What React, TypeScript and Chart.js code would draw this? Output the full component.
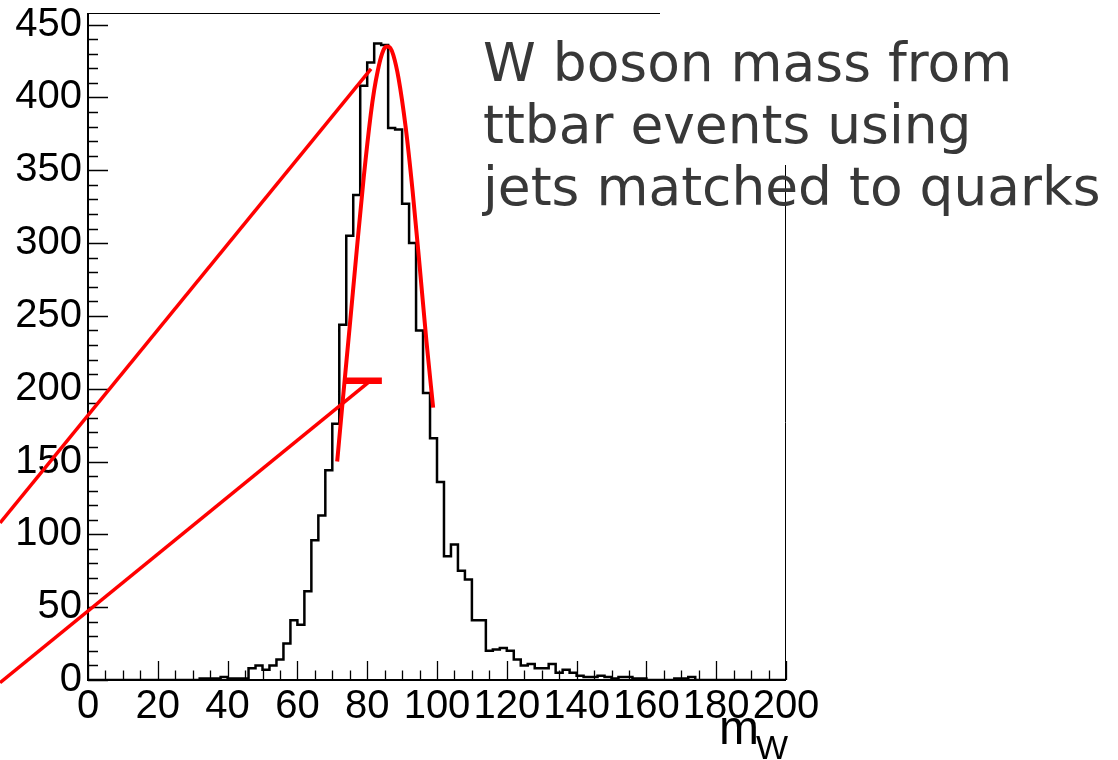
import React, { useEffect, useRef } from "react";
import { Chart, registerables } from "chart.js";

Chart.register(...registerables);

// Histogram: 100 bins of width 2 from 0 to 200 (m_W)
const binLow = 0;
const binWidth = 2;
const counts = [
  0, 0, 0, 0, 0, 0, 0, 0, 0, 0,
  0, 0, 0, 0, 0, 0, 0, 1, 1, 1,
  2, 1, 1, 1, 8, 10, 7, 10, 14, 25,
  41, 38, 61, 96, 113, 144, 176, 244, 305, 333,
  408, 424, 437, 436, 379, 378, 327, 300, 240, 197,
  166, 136, 85, 93, 75, 69, 41, 41, 20, 21,
  22, 20, 14, 10, 11, 8, 8, 11, 5, 7,
  5, 3, 2, 2, 3, 2, 1, 2, 2, 1,
  1, 0, 0, 0, 0, 1, 1, 2, 0, 0,
  0, 0, 0, 0, 0, 0, 0, 0, 0, 0,
];

// Red fit curve
const fitX = [71.4, 73, 75, 77, 79, 81, 82, 83, 84, 85, 85.8, 86.6, 87.5, 89, 91, 93, 95, 97, 98.9];
const fitY = [150, 192, 243, 295, 345, 388, 405, 418, 428, 434, 435, 434, 429, 413, 380, 336, 285, 232, 187];

// Stray red straight lines and thick bar
const lineAX = [-25.2, 81.1];
const lineAY = [107.9, 419.7];
const lineBX = [-25.2, 80.8];
const lineBY = [-1.9, 205.2];
const barX = [73.6, 84.2];
const barY = [205.5, 205.5];

// Axis ticks
const xTicks = [0, 20, 40, 60, 80, 100, 120, 140, 160, 180, 200];
const yTicks = [0, 50, 100, 150, 200, 250, 300, 350, 400, 450];
const xMinorStep = 5;
const yMinorStep = 10;

const tickFont = { family: "'Liberation Sans', Arial, sans-serif", size: 40 };

const framePlugin = {
  id: "rootFrame",
  beforeDatasetsDraw(chart: any) {
    const { ctx, chartArea } = chart;
    const xs = chart.scales.x;
    const ys = chart.scales.y;
    const { left, right, top, bottom } = chartArea;
    ctx.save();
    ctx.strokeStyle = "#000";
    // axes
    ctx.lineWidth = 2;
    ctx.beginPath();
    ctx.moveTo(left, top);
    ctx.lineTo(left, bottom);
    ctx.lineTo(right, bottom);
    ctx.stroke();
    // partial top / right frame
    ctx.lineWidth = 1;
    ctx.beginPath();
    ctx.moveTo(left, top + 0.5);
    ctx.lineTo(660, top + 0.5);
    ctx.moveTo(right - 0.5, 165);
    ctx.lineTo(right - 0.5, bottom);
    ctx.stroke();
    // ticks
    ctx.lineWidth = 1.3;
    ctx.beginPath();
    for (let v = xs.min; v <= xs.max + 1e-9; v += xMinorStep) {
      const px = Math.round(xs.getPixelForValue(v)) + 0.5;
      const major = xTicks.includes(v);
      ctx.moveTo(px, bottom);
      ctx.lineTo(px, bottom - (major ? 19 : 9.5));
    }
    for (let v = 0; v <= yTicks[yTicks.length - 1] + 1e-9; v += yMinorStep) {
      const py = Math.round(ys.getPixelForValue(v)) + 0.5;
      const major = yTicks.includes(v);
      ctx.moveTo(left, py);
      ctx.lineTo(left + (major ? 20 : 10), py);
    }
    ctx.stroke();
    ctx.restore();
  },
};

export default function App() {
  const ref = useRef<HTMLCanvasElement>(null);

  useEffect(() => {
    document.body.style.margin = "0";
    const histPoints = counts.map((c, i) => ({ x: binLow + i * binWidth, y: c }));
    histPoints.push({ x: binLow + counts.length * binWidth, y: counts[counts.length - 1] });
    const fitPoints = fitX.map((x, i) => ({ x, y: fitY[i] }));
    const lineA = lineAX.map((x, i) => ({ x, y: lineAY[i] }));
    const lineB = lineBX.map((x, i) => ({ x, y: lineBY[i] }));
    const bar = barX.map((x, i) => ({ x, y: barY[i] }));

    const chart = new Chart(ref.current as HTMLCanvasElement, {
      type: "line",
      data: {
        datasets: [
          {
            data: histPoints,
            stepped: "after",
            borderColor: "#000",
            borderWidth: 2.5,
            pointRadius: 0,
            fill: false,
            order: 3,
          },
          {
            data: lineA,
            borderColor: "#ff0000",
            borderWidth: 3.5,
            pointRadius: 0,
            clip: false,
            order: 2,
          },
          {
            data: lineB,
            borderColor: "#ff0000",
            borderWidth: 3.5,
            pointRadius: 0,
            clip: false,
            order: 2,
          },
          {
            data: bar,
            borderColor: "#ff0000",
            borderWidth: 6.5,
            pointRadius: 0,
            clip: false,
            order: 1,
          },
          {
            data: fitPoints,
            borderColor: "#ff0000",
            borderWidth: 4,
            pointRadius: 0,
            cubicInterpolationMode: "monotone",
            clip: false,
            order: 0,
          },
        ] as any,
      },
      options: {
        animation: false,
        responsive: false,
        events: [],
        layout: { padding: { top: 13, right: 332, left: 0, bottom: 0 } },
        plugins: {
          legend: { display: false },
          tooltip: { enabled: false },
        },
        scales: {
          x: {
            type: "linear",
            min: 0,
            max: 200,
            grid: { display: false, drawTicks: false, tickLength: 0 },
            border: { display: false },
            afterBuildTicks: (s: any) => {
              s.ticks = xTicks.map((v) => ({ value: v }));
            },
            afterFit: (s: any) => {
              s.height = 80;
              s.paddingLeft = 0;
              s.paddingRight = 0;
            },
            ticks: {
              font: tickFont,
              color: "#000",
              padding: 3,
              maxRotation: 0,
              minRotation: 0,
              autoSkip: false,
            },
          },
          y: {
            type: "linear",
            min: 0,
            max: 458,
            grid: { display: false, drawTicks: false, tickLength: 0 },
            border: { display: false },
            afterBuildTicks: (s: any) => {
              s.ticks = yTicks.map((v) => ({ value: v }));
            },
            afterFit: (s: any) => {
              s.width = 88;
              s.paddingTop = 0;
              s.paddingBottom = 0;
            },
            ticks: {
              font: tickFont,
              color: "#000",
              padding: 6,
              autoSkip: false,
            },
          },
        },
      },
      plugins: [framePlugin],
    });
    return () => chart.destroy();
  }, []);

  return (
    <div style={{ position: "relative", width: 1118, height: 760, overflow: "hidden", background: "#fff" }}>
      <canvas ref={ref} width={1118} height={760} style={{ display: "block" }} />
      <div
        style={{
          position: "absolute",
          left: 483,
          top: 32,
          fontFamily: "'DejaVu Sans', sans-serif",
          fontSize: 53.4,
          lineHeight: "62px",
          color: "#383838",
          whiteSpace: "nowrap",
        }}
      >
        W boson mass from
        <br />
        ttbar events using
        <br />
        jets matched to quarks
      </div>
      <div
        style={{
          position: "absolute",
          left: 719,
          top: 704,
          fontFamily: "'Liberation Sans', Arial, sans-serif",
          fontSize: 48,
          lineHeight: "48px",
          color: "#000",
          whiteSpace: "nowrap",
        }}
      >
        m
      </div>
      <div
        style={{
          position: "absolute",
          left: 756,
          top: 730,
          fontFamily: "'Liberation Sans', Arial, sans-serif",
          fontSize: 34,
          lineHeight: "34px",
          color: "#000",
          whiteSpace: "nowrap",
        }}
      >
        W
      </div>
    </div>
  );
}
